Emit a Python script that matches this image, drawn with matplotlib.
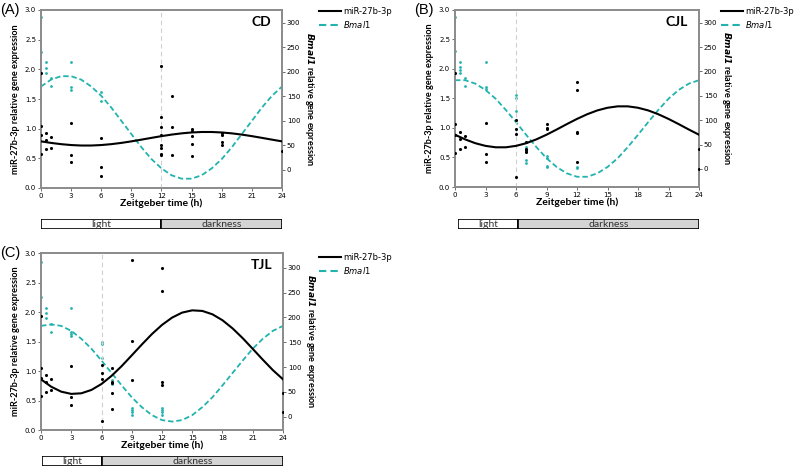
import matplotlib
matplotlib.use('Agg')
import matplotlib.pyplot as plt
from matplotlib.lines import Line2D
from matplotlib.patches import Rectangle

fit_hours = list(range(25))

# (A) CD
cd_mir_time = [0, 0, 0, 0, 0.5, 0.5, 0.5, 1, 1, 3, 3, 3, 6, 6, 6,
               12, 12, 12, 12, 12, 12, 12, 12, 13, 13, 13,
               15, 15, 15, 15, 15, 18, 18, 18, 18, 24]
cd_mir_expr = [1.94, 1.05, 0.89, 0.57, 0.93, 0.81, 0.65, 0.86, 0.675, 1.09, 0.56, 0.43, 0.84, 0.35, 0.20,
               2.05, 1.20, 1.02, 0.90, 0.73, 0.675, 0.575, 0.56, 1.55, 1.035, 0.56,
               0.99, 0.96, 0.87, 0.74, 0.54, 0.92, 0.89, 0.77, 0.72, 0.625]
cd_bmal_time = [0, 0, 0.5, 0.5, 0.5, 1, 1, 3, 3, 3, 6, 6, 24, 24]
cd_bmal_expr = [312, 241, 219, 208, 197, 187, 170, 220, 168, 163, 158, 141, 22, 14]
cd_mir_fit = [0.786, 0.760, 0.739, 0.724, 0.716, 0.716, 0.724, 0.739, 0.760, 0.786, 0.815, 0.845, 0.874,
              0.900, 0.921, 0.936, 0.944, 0.944, 0.936, 0.921, 0.900, 0.874, 0.845, 0.815, 0.786]
cd_bmal_fit = [170, 184, 191, 191, 184, 170, 151, 127, 100, 73, 46, 22, 3,
               -11, -18, -18, -11, 3, 22, 46, 73, 100, 127, 151, 170]

# (B) CJL
cjl_mir_time = [0, 0, 0, 0, 0.5, 0.5, 0.5, 1, 1, 3, 3, 3, 6, 6, 6, 6, 7, 7, 7, 7,
                9, 9, 9, 12, 12, 12, 12, 12, 24, 24]
cjl_mir_expr = [1.94, 1.06, 0.88, 0.57, 0.93, 0.81, 0.65, 0.86, 0.675, 1.09, 0.56, 0.43,
                1.13, 0.98, 0.89, 0.17, 0.77, 0.65, 0.62, 0.59,
                1.07, 1.00, 0.98, 1.78, 1.65, 0.94, 0.91, 0.43, 0.64, 0.31]
cjl_bmal_time = [0, 0, 0.5, 0.5, 0.5, 0.5, 1, 1, 3, 3, 3, 6, 6, 6, 7, 7, 7, 7,
                 9, 9, 9, 9, 12, 12, 24, 24]
cjl_bmal_expr = [312, 241, 219, 210, 203, 196, 187, 170, 220, 168, 163, 151, 146, 119, 45, 36, 19, 12,
                 26, 22, 7, 3, 5, 2, 23, 17]
cjl_mir_fit = [0.886, 0.807, 0.742, 0.697, 0.673, 0.673, 0.697, 0.742, 0.807, 0.886, 0.974, 1.066, 1.154,
               1.233, 1.298, 1.343, 1.367, 1.367, 1.343, 1.298, 1.233, 1.154, 1.066, 0.974, 0.886]
cjl_bmal_fit = [182, 182, 175, 162, 144, 121, 96, 70, 45, 22, 4, -9, -16,
                -16, -9, 4, 22, 45, 70, 96, 121, 144, 162, 175, 182]

# (C) TJL
tjl_mir_time = [0, 0, 0, 0, 0.5, 0.5, 0.5, 1, 1, 3, 3, 3, 6, 6, 6, 6, 7, 7, 7, 7, 7,
                9, 9, 9, 12, 12, 12, 12, 24, 24]
tjl_mir_expr = [1.94, 1.05, 0.88, 0.57, 0.93, 0.81, 0.65, 0.86, 0.675, 1.09, 0.56, 0.43,
                1.11, 0.96, 0.87, 0.16, 1.05, 0.82, 0.80, 0.63, 0.35,
                2.88, 1.51, 0.84, 2.75, 2.36, 0.81, 0.76, 0.62, 0.30]
tjl_bmal_time = [0, 0, 0.5, 0.5, 0.5, 1, 1, 3, 3, 3, 3, 6, 6, 6, 7, 7, 7,
                 9, 9, 9, 9, 12, 12, 12, 12, 24, 24]
tjl_bmal_expr = [311, 242, 220, 209, 199, 186, 171, 220, 171, 167, 163, 150, 146, 119, 73, 68, 65,
                 17, 13, 10, 4, 17, 13, 9, 4, 26, 17]
tjl_mir_fit = [0.859, 0.735, 0.650, 0.612, 0.622, 0.679, 0.780, 0.918, 1.083, 1.265, 1.449, 1.626, 1.781,
               1.905, 1.990, 2.028, 2.018, 1.961, 1.860, 1.722, 1.557, 1.375, 1.191, 1.014, 0.859]
tjl_bmal_fit = [183, 186, 183, 173, 157, 137, 113, 88, 63, 39, 19, 3, -7,
                -10, -7, 3, 19, 39, 63, 88, 113, 137, 157, 173, 183]

x_ticks = [0, 3, 6, 9, 12, 15, 18, 21, 24]
mir_ticks = [0.0, 0.5, 1.0, 1.5, 2.0, 2.5, 3.0]
bmal_ticks = [0, 50, 100, 150, 200, 250, 300]

TEAL = '#22b3ae'
SPINE = '#8c8c8c'
LABEL_FONT = 'Lato'


def draw_panel(ax, bar, letter, title, lights_off, mir_t, mir_y, bmal_t, bmal_y,
               mir_fit, bmal_fit, bmal_lim, legend_xy):
    ax2 = ax.twinx()
    ax.set_zorder(ax2.get_zorder() + 1)
    ax.patch.set_visible(False)

    ax.axvline(lights_off, color='#cfcfcf', lw=0.8, ls=(0, (4, 3)), zorder=0)
    ax.plot(fit_hours, mir_fit, color='black', lw=1.5, zorder=3)
    ax.scatter(mir_t, mir_y, s=5, color='black', zorder=4, linewidths=0)
    ax2.plot(fit_hours, bmal_fit, color=TEAL, lw=1.3, ls=(0, (3, 1.6)))
    ax2.scatter(bmal_t, bmal_y, s=4, color=TEAL, linewidths=0)

    ax.set_xlim(0, 24)
    ax.set_ylim(0, 3.0)
    ax2.set_ylim(*bmal_lim)
    ax.set_xticks(x_ticks)
    ax.set_yticks(mir_ticks)
    ax.set_yticklabels(['%.1f' % v for v in mir_ticks])
    ax2.set_yticks(bmal_ticks)

    for a in (ax, ax2):
        for sp in a.spines.values():
            sp.set_color(SPINE)
            sp.set_linewidth(1.3)
        a.tick_params(labelsize=5, length=2, width=0.6, color='#555555', pad=1.5)

    ax.set_xlabel('Zeitgeber time (h)', fontsize=7.5, fontweight='bold', family=LABEL_FONT, labelpad=0)
    ax.set_ylabel('miR-27b-3p relative gene expression', fontsize=6.6, fontweight='bold',
                  family=LABEL_FONT, labelpad=3.5)
    ax2.set_ylabel(r'$\mathbfit{Bmal1}$ relative gene expression', fontsize=6.6, fontweight='bold',
                   family=LABEL_FONT, rotation=270, labelpad=11)
    ax.text(0.955, 0.965, title, transform=ax.transAxes, ha='right', va='top',
            fontsize=10, fontweight='bold', family=LABEL_FONT)

    fig = ax.figure
    pos = ax.get_position()
    fig.text(pos.x0 - 0.051, pos.y1 + 0.014, letter, fontsize=10.5, family='Liberation Sans',
             ha='left', va='top')

    handles = [Line2D([], [], color='black', lw=1.5),
               Line2D([], [], color=TEAL, lw=1.5, ls=(0, (3.5, 2)))]
    fig.legend(handles, ['miR-27b-3p', r'$\mathit{Bmal1}$'], loc='upper left',
               bbox_to_anchor=legend_xy, frameon=False, fontsize=6.0, handlelength=2.6,
               handletextpad=0.3, labelspacing=0.4, borderpad=0, borderaxespad=0)

    # light / darkness bar
    bar.set_xlim(0, 24)
    bar.set_ylim(0, 1)
    bar.axis('off')
    bar.add_patch(Rectangle((0, 0), lights_off, 1, facecolor='white', edgecolor='black', lw=1.2))
    bar.add_patch(Rectangle((lights_off, 0), 24 - lights_off, 1, facecolor='#d4d4d4',
                            edgecolor='black', lw=1.2))
    bar.text(lights_off / 2, 0.45, 'light', ha='center', va='center', fontsize=7.5,
             family=LABEL_FONT, color='#333333')
    bar.text((24 + lights_off) / 2, 0.45, 'darkness', ha='center', va='center', fontsize=7.5,
             family=LABEL_FONT, color='#333333')


W, H = 797, 469
fig = plt.figure(figsize=(W / 100, H / 100), dpi=100)


def px_axes(x0, y0, x1, y1):
    return fig.add_axes([x0 / W, 1 - y1 / H, (x1 - x0) / W, (y1 - y0) / H])


ax_a = px_axes(41, 10, 282, 188)
bar_a = px_axes(41, 219, 282, 229)
ax_b = px_axes(455, 10, 699, 187)
bar_b = px_axes(458, 219, 699, 229)
ax_c = px_axes(41, 253, 283, 430)
bar_c = px_axes(42, 456, 283, 466)

draw_panel(ax_a, bar_a, '(A)', 'CD', 12, cd_mir_time, cd_mir_expr, cd_bmal_time, cd_bmal_expr,
           cd_mir_fit, cd_bmal_fit, (-37, 326), (319 / W, 1 - 7 / H))
draw_panel(ax_b, bar_b, '(B)', 'CJL', 6, cjl_mir_time, cjl_mir_expr, cjl_bmal_time, cjl_bmal_expr,
           cjl_mir_fit, cjl_bmal_fit, (-37, 326), (721 / W, 1 - 7 / H))
draw_panel(ax_c, bar_c, '(C)', 'TJL', 6, tjl_mir_time, tjl_mir_expr, tjl_bmal_time, tjl_bmal_expr,
           tjl_mir_fit, tjl_bmal_fit, (-27, 330), (319 / W, 1 - 253 / H))

fig.savefig('out.png', dpi=100, facecolor='white')
